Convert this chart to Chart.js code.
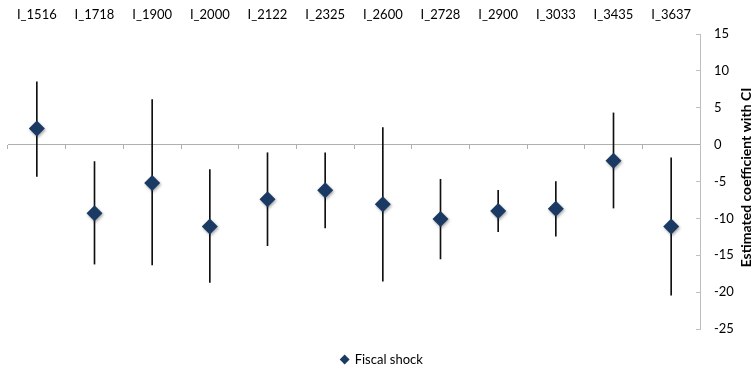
<!DOCTYPE html>
<html>
<head>
<meta charset="utf-8">
<script src="https://cdn.jsdelivr.net/npm/chart.js@4"></script>
<style>
  html, body { margin: 0; padding: 0; background: #fff; }
  #wrap { width: 756px; height: 372px; }
</style>
</head>
<body>
<div id="wrap"><canvas id="chart"></canvas></div>
<script>
const categories = ["I_1516", "I_1718", "I_1900", "I_2000", "I_2122", "I_2325",
  "I_2600", "I_2728", "I_2900", "I_3033", "I_3435", "I_3637"];
const coef = [2.2, -9.3, -5.2, -11.1, -7.4, -6.2, -8.1, -10.1, -9.0, -8.7, -2.2, -11.1];
const ciLow = [-4.3, -16.2, -16.3, -18.7, -13.7, -11.3, -18.5, -15.5, -11.8, -12.4, -8.6, -20.4];
const ciHigh = [8.5, -2.3, 6.1, -3.4, -1.1, -1.1, 2.3, -4.7, -6.2, -5.0, 4.3, -1.8];
const yMin = -25, yMax = 15, yStep = 5;
const seriesName = "Fiscal shock";
const yTitle = "Estimated coefficient with CI";

Chart.defaults.font.family = "Lato, sans-serif";
Chart.defaults.font.size = 13;
Chart.defaults.color = "#000";

const navy = "#1b3a63";

// soft drop shadow under the diamonds
const markerShadow = {
  id: "markerShadow",
  beforeDatasetDraw(chart, args) {
    if (args.index !== 0) return;
    const ctx = chart.ctx;
    ctx.save();
    ctx.shadowColor = "rgba(0,0,0,0.35)";
    ctx.shadowBlur = 3;
    ctx.shadowOffsetX = 1;
    ctx.shadowOffsetY = 1.5;
  },
  afterDatasetDraw(chart, args) {
    if (args.index === 0) chart.ctx.restore();
  },
};

// right-hand axis title, reading bottom to top
const axisTitle = {
  id: "axisTitle",
  afterDraw(chart) {
    const y = chart.scales.y;
    const ctx = chart.ctx;
    ctx.save();
    ctx.translate(y.right - 10, (y.top + y.bottom) / 2 - 4);
    ctx.rotate(-Math.PI / 2);
    ctx.font = "bold 14px Lato, sans-serif";
    ctx.fillStyle = "#000";
    ctx.textAlign = "center";
    ctx.textBaseline = "middle";
    ctx.fillText(yTitle, 0, 0);
    ctx.restore();
  },
};

new Chart(document.getElementById("chart"), {
  data: {
    labels: categories,
    datasets: [
      {
        type: "line",
        label: seriesName,
        data: coef,
        showLine: false,
        pointStyle: "rectRot",
        pointRadius: 8,
        pointHoverRadius: 8,
        backgroundColor: navy,
        borderColor: navy,
        borderWidth: 0,
        order: 0,
      },
      {
        type: "bar",
        label: "CI",
        data: ciLow.map((lo, i) => [lo, ciHigh[i]]),
        backgroundColor: "#111",
        barThickness: 1,
        order: 1,
      },
    ],
  },
  options: {
    responsive: true,
    maintainAspectRatio: false,
    animation: false,
    events: [],
    layout: { padding: { left: 8, right: 0, top: 0, bottom: -4 } },
    scales: {
      x: {
        type: "category",
        position: "top",
        offset: true,
        grid: { display: false, drawTicks: false },
        border: { display: false },
        ticks: { padding: 11, maxRotation: 0, autoSkip: false },
        afterFit: (scale) => { scale.height = 34; },
      },
      x0: {
        type: "category",
        axis: "x",
        position: { y: 0 },
        offset: true,
        grid: {
          offset: true,
          drawOnChartArea: false,
          drawTicks: true,
          tickLength: 4,
          color: "#b0b0b0",
        },
        border: { color: "#b0b0b0" },
        ticks: { display: false },
      },
      y: {
        position: "right",
        min: yMin,
        max: yMax,
        ticks: { stepSize: yStep, padding: 18 },
        grid: {
          drawOnChartArea: false,
          drawTicks: true,
          tickLength: -4,
          color: "#bfbfbf",
        },
        border: { color: "#bfbfbf" },
        afterFit: (scale) => { scale.width = 56; },
      },
    },
    plugins: {
      legend: {
        position: "bottom",
        labels: {
          usePointStyle: true,
          boxWidth: 7,
          boxHeight: 7,
          padding: 24,
          filter: (item) => item.datasetIndex === 0,
        },
      },
      tooltip: { enabled: false },
    },
  },
  plugins: [markerShadow, axisTitle],
});
</script>
</body>
</html>
